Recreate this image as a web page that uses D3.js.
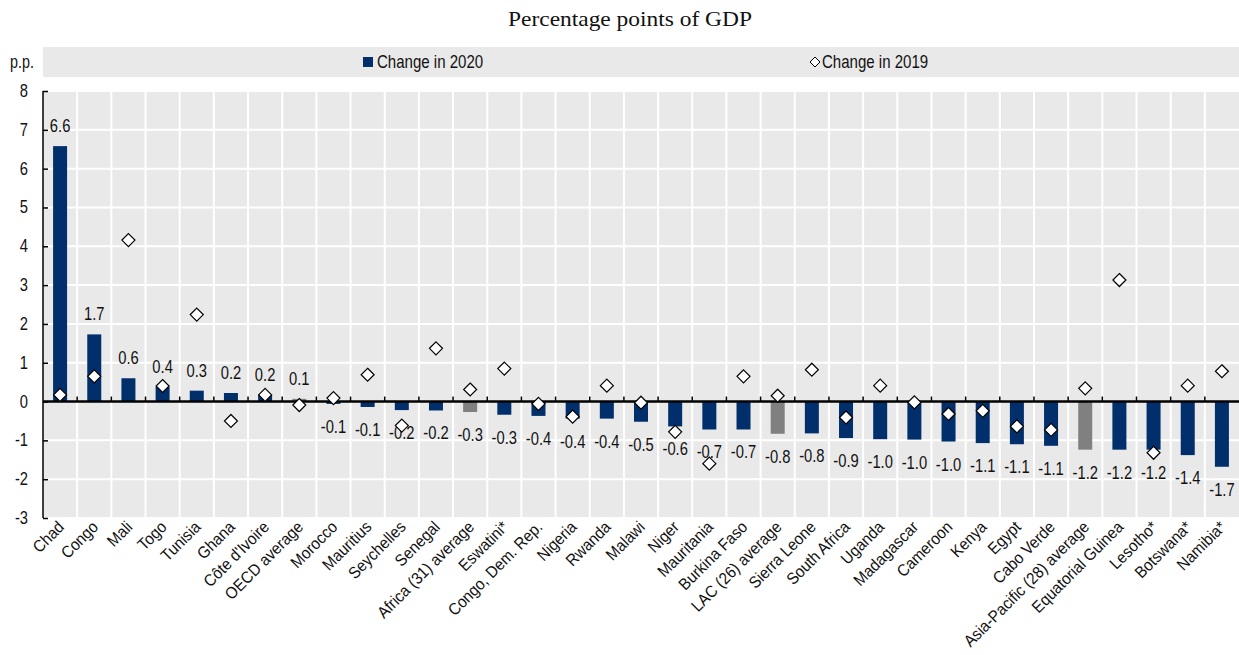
<!DOCTYPE html>
<html><head><meta charset="utf-8">
<script src="https://cdn.jsdelivr.net/npm/d3@7"></script>
<style>
body{margin:0;background:#fff;}
svg{display:block;}
text{font-family:"Liberation Sans",Arial,sans-serif;}
text.serif{font-family:"Liberation Serif","DejaVu Serif",serif;}
</style></head>
<body>
<svg id="chart" width="1239" height="655"></svg>
<script>
const categories = ["Chad","Congo","Mali","Togo","Tunisia","Ghana","Côte d'Ivoire","OECD average","Morocco","Mauritius","Seychelles","Senegal","Africa (31) average","Eswatini*","Congo, Dem. Rep.","Nigeria","Rwanda","Malawi","Niger","Mauritania","Burkina Faso","LAC (26) average","Sierra Leone","South Africa","Uganda","Madagascar","Cameroon","Kenya","Egypt","Cabo Verde","Asia-Pacific (28) average","Equatorial Guinea","Lesotho*","Botswana*","Namibia*"];
const change2020 = [6.58,1.73,0.60,0.38,0.28,0.22,0.18,0.07,-0.06,-0.14,-0.22,-0.23,-0.27,-0.34,-0.37,-0.44,-0.44,-0.52,-0.64,-0.72,-0.72,-0.83,-0.82,-0.94,-0.97,-0.98,-1.03,-1.07,-1.10,-1.14,-1.24,-1.24,-1.24,-1.38,-1.68];
const change2019 = [0.17,0.65,4.16,0.40,2.24,-0.50,0.17,-0.09,0.09,0.69,-0.62,1.37,0.31,0.85,-0.06,-0.39,0.41,-0.03,-0.78,-1.60,0.65,0.15,0.82,-0.41,0.41,-0.02,-0.32,-0.24,-0.64,-0.73,0.34,3.13,-1.32,0.41,0.78];
const averages = ["OECD average","Africa (31) average","LAC (26) average","Asia-Pacific (28) average"];
const yTicks = [8,7,6,5,4,3,2,1,0,-1,-2,-3];
const legendLabels = ["Change in 2020","Change in 2019"];

const svg = d3.select("#chart");
const pLeft = 43, pRight = 1239, pTop = 91, pBottom = 518;
const x = d3.scaleBand().domain(categories).range([pLeft, pRight]).paddingInner(0).paddingOuter(0);
const y = d3.scaleLinear().domain([-3, 8]).range([pBottom, pTop]);
const navy = "#002f6c", grey = "#808080", bg = "#e9e9e9";
const loc = d3.formatLocale({decimal:".", thousands:",", grouping:[3], currency:["",""], minus:"-"});
const fmt = loc.format(".1f");
const fmtInt = loc.format("d");
const SX = 0.82; // horizontal condensing for narrow font look

function narrowText(g, tx, ty, str, size, anchor, rot, sx) {
  let t = `translate(${tx},${ty})`;
  if (rot) t += ` rotate(${rot})`;
  t += ` scale(${sx||SX},1)`;
  return g.append("text").attr("transform", t).attr("font-size", size)
    .attr("text-anchor", anchor || "start").attr("fill", "#111").text(str);
}

// subtitle
svg.append("text").attr("class","serif").attr("x", 508).attr("y", 26).attr("font-size",21)
  .attr("textLength",244).attr("lengthAdjust","spacingAndGlyphs")
  .attr("fill","#111").text("Percentage points of GDP");

// legend band
svg.append("rect").attr("x",pLeft).attr("y",47).attr("width",pRight-pLeft).attr("height",30).attr("fill",bg);
narrowText(svg, 10, 68, "p.p.", 17.5, "start");
svg.append("rect").attr("x",363).attr("y",57).attr("width",10).attr("height",10).attr("fill",navy);
narrowText(svg, 377, 68, legendLabels[0], 17.5, "start", 0, 0.86);
svg.append("path").attr("transform","translate(815,62)").attr("d","M0,-5L5,0L0,5L-5,0Z").attr("fill","#fff").attr("stroke","#000").attr("stroke-width",1);
narrowText(svg, 822, 68, legendLabels[1], 17.5, "start", 0, 0.86);

// plot background
svg.append("rect").attr("x",pLeft).attr("y",pTop).attr("width",pRight-pLeft).attr("height",pBottom-pTop).attr("fill",bg);
// horizontal gridlines
svg.append("g").selectAll("line").data(yTicks.filter(d=>d!==0)).join("line")
  .attr("x1",pLeft).attr("x2",pRight).attr("y1",d=>y(d)).attr("y2",d=>y(d))
  .attr("stroke","#fff").attr("stroke-width",2);
// vertical gridlines at band boundaries
svg.append("g").selectAll("line").data(categories.slice(1)).join("line")
  .attr("x1",d=>x(d)).attr("x2",d=>x(d)).attr("y1",pTop).attr("y2",pBottom)
  .attr("stroke","#fff").attr("stroke-width",2);

// bars
svg.append("g").selectAll("rect").data(categories).join("rect")
  .attr("x",(d)=>x(d)+x.bandwidth()/2-7)
  .attr("width",14)
  .attr("y",(d,i)=>y(Math.max(0,change2020[i])))
  .attr("height",(d,i)=>Math.abs(y(change2020[i])-y(0)))
  .attr("fill",d=>averages.includes(d)?grey:navy);

// zero line + ticks
svg.append("line").attr("x1",pLeft).attr("x2",pRight).attr("y1",y(0)).attr("y2",y(0)).attr("stroke","#000").attr("stroke-width",2.5);
svg.append("g").selectAll("line").data(categories.slice(1)).join("line")
  .attr("x1",d=>x(d)).attr("x2",d=>x(d)).attr("y1",y(0)).attr("y2",y(0)-5)
  .attr("stroke","#000").attr("stroke-width",1.5);

// y axis
const yAxis = d3.axisLeft(y).tickValues(yTicks).tickSize(-5).tickFormat(()=>"");
const gy = svg.append("g").attr("transform",`translate(${pLeft},0)`).call(yAxis);
gy.select(".domain").attr("stroke","#000").attr("stroke-width",1.5).attr("d",`M0,${pTop}V${pBottom}`);
gy.selectAll(".tick line").attr("stroke","#000").attr("stroke-width",1.5);
gy.selectAll(".tick text").remove();
const gyl = svg.append("g");
yTicks.forEach(v => narrowText(gyl, 28, y(v) + 6, fmtInt(v), 18, "end"));

// value labels
const gl = svg.append("g");
categories.forEach((c, i) => {
  const v = change2020[i];
  narrowText(gl, x(c) + x.bandwidth()/2, v >= 0 ? y(v) - 14 : y(v) + 29, fmt(v), 18, "middle");
});

// diamonds
svg.append("g").selectAll("path").data(categories).join("path")
  .attr("transform",(d,i)=>`translate(${x(d)+x.bandwidth()/2},${y(change2019[i])})`)
  .attr("d","M0,-6.5L6.5,0L0,6.5L-6.5,0Z").attr("fill","#fff").attr("stroke","#000").attr("stroke-width",1.2);

// x labels
const gx = svg.append("g");
categories.forEach(c => narrowText(gx, x(c) + x.bandwidth()/2 + 5, pBottom + 10, c, 16.5, "end", -45, 0.92));
</script>
</body></html>
